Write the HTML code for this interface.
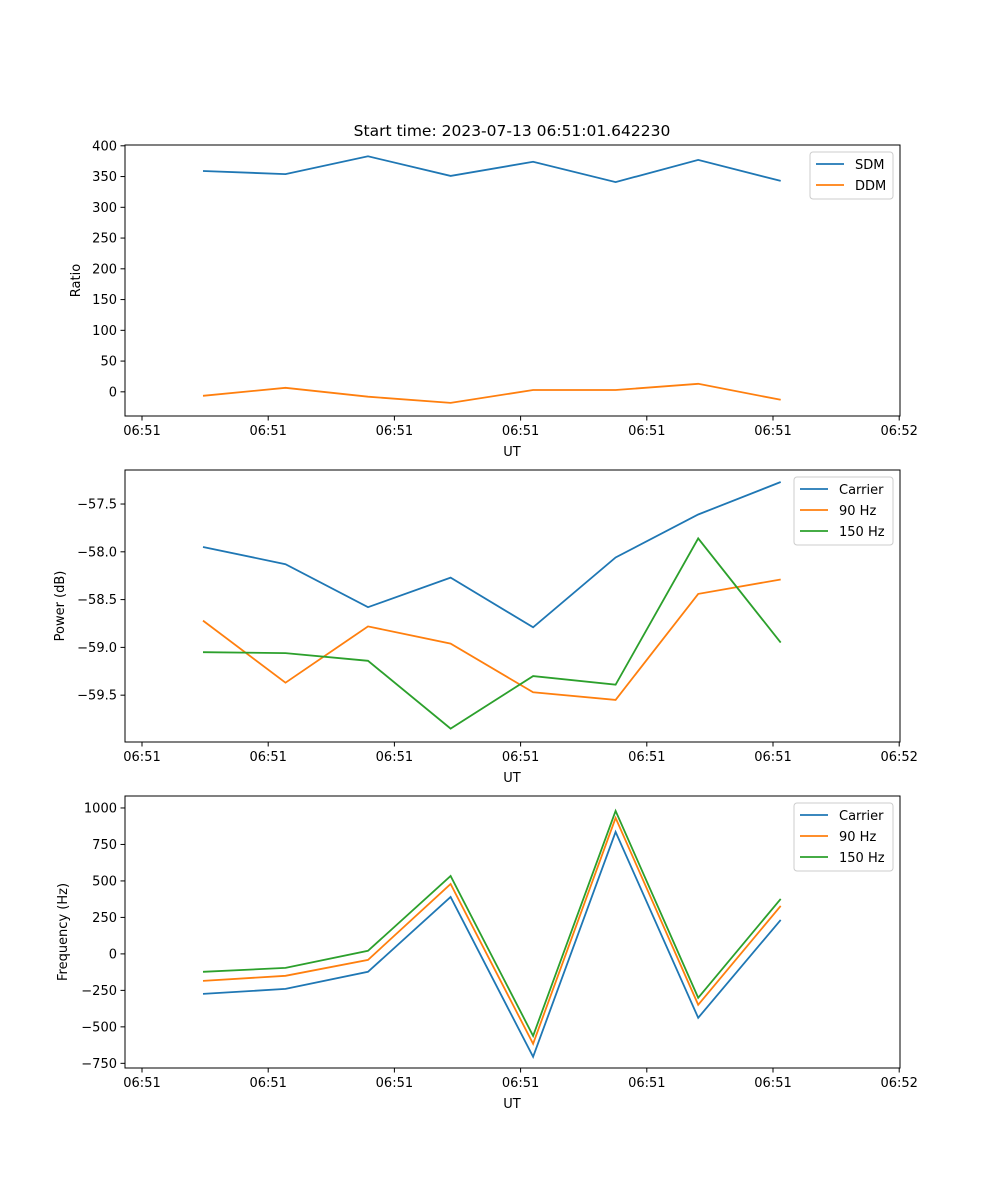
<!DOCTYPE html>
<html><head><meta charset="utf-8"><style>
body{margin:0;background:#fff}
svg{display:block;font-family:"DejaVu Sans","Liberation Sans",sans-serif}
</style></head><body>
<svg id="fig" width="1000" height="1200" viewBox="0 0 1000 1200"></svg>
<script>
const times = [0.483, 1.137, 1.791, 2.445, 3.099, 3.753, 4.407, 5.061];
const xTicks = [0, 1, 2, 3, 4, 5, 6];
const xTickLabels = ["06:51","06:51","06:51","06:51","06:51","06:51","06:52"];
const sdm = [359, 354, 383, 351, 374, 341, 377, 343];
const ddm = [-6.5, 6.5, -8, -18, 3, 3, 13, -13];
const pCarrier = [-57.95, -58.13, -58.58, -58.27, -58.79, -58.06, -57.61, -57.27];
const p90 = [-58.72, -59.37, -58.78, -58.96, -59.47, -59.55, -58.44, -58.29];
const p150 = [-59.05, -59.06, -59.14, -59.85, -59.3, -59.39, -57.86, -58.95];
const fCarrier = [-274, -240, -123, 390, -705, 836, -438, 233];
const f90 = [-185, -150, -41, 479, -616, 932, -349, 329];
const f150 = [-123, -96, 21, 534, -562, 980, -301, 377];
const ticks1 = [0, 50, 100, 150, 200, 250, 300, 350, 400];
const ticks2 = [-59.5, -59.0, -58.5, -58.0, -57.5];
const ticks3 = [-750, -500, -250, 0, 250, 500, 750, 1000];

const NS = "http://www.w3.org/2000/svg";
const svg = document.getElementById('fig');
function mk(tag, attrs, parent, text){
  const e = document.createElementNS(NS, tag);
  for (const k in attrs) e.setAttribute(k, attrs[k]);
  if (text !== undefined) e.textContent = text;
  (parent || svg).appendChild(e);
  return e;
}
const L = 125, R = 900;
const xs = v => 142 + v * 126.2;
const C = {blue:"#1f77b4", orange:"#ff7f0e", green:"#2ca02c"};

function panel(name, top, bottom, ymin, ymax, yTicks, fmt, ylabel, series, legendW){
  const g = mk('g', {}, svg);
  
  
  const ys = v => bottom - (v - ymin) / (ymax - ymin) * (bottom - top);
  series.forEach(s => {
    const pts = times.map((t, i) => xs(t).toFixed(1) + ',' + ys(s.vals[i]).toFixed(1)).join(' ');
    const pl = mk('polyline', {points: pts, fill: 'none', stroke: s.color, 'stroke-width': 1.8}, g);
    
    
  });
  const fr = mk('rect', {x: L, y: top, width: R - L, height: bottom - top, fill: 'none', stroke: '#000', 'stroke-width': 1}, g);
  
  
  xTicks.forEach((t, i) => {
    const x = xs(t);
    mk('line', {x1: x, x2: x, y1: bottom, y2: bottom + 4.5, stroke: '#000'}, g);
    const tx = mk('text', {x: x, y: bottom + 19, 'font-size': 13, 'text-anchor': 'middle'}, g, xTickLabels[i]);
    
    
  });
  yTicks.forEach(t => {
    const y = ys(t);
    mk('line', {x1: L - 4.5, x2: L, y1: y, y2: y, stroke: '#000'}, g);
    const tx = mk('text', {x: L - 8, y: y + 4.5, 'font-size': 13, 'text-anchor': 'end'}, g, fmt(t));
    
    
  });
  const xl = mk('text', {x: 512, y: bottom + 40, 'font-size': 13, 'text-anchor': 'middle'}, g, 'UT');
  
  
  const my = (top + bottom) / 2;
  const yl = mk('text', {x: 0, y: 0, 'font-size': 13, 'text-anchor': 'middle', transform: `translate(${ylabel.x},${my}) rotate(-90)`}, g, ylabel.t);
  
  
  const lx = R - 7 - legendW, ly = top + 7, lh = 5 + series.length * 21;
  const lg = mk('g', {}, g);
  
  
  mk('rect', {x: lx, y: ly, width: legendW, height: lh, rx: 3, fill: '#fff', 'fill-opacity': 0.8, stroke: '#ccc'}, lg);
  series.forEach((s, i) => {
    const yy = ly + 12 + i * 21;
    mk('line', {x1: lx + 6, x2: lx + 34, y1: yy, y2: yy, stroke: s.color, 'stroke-width': 1.8}, lg);
    const t = mk('text', {x: lx + 45, y: yy + 5, 'font-size': 13}, lg, s.label);
    
    
  });
}

const title = mk('text', {x: 512, y: 136, 'font-size': 15.5, 'text-anchor': 'middle'}, svg, 'Start time: 2023-07-13 06:51:01.642230');



const minus = s => s.replace('-', '\u2212');
panel('ratio-panel', 145, 416, -39.3, 401.3, ticks1, t => minus(String(t)), {x: 80, t: 'Ratio'},
  [{id:'sdm', vals: sdm, color: C.blue, label: 'SDM'}, {id:'ddm', vals: ddm, color: C.orange, label: 'DDM'}], 83);
panel('power-panel', 470, 742, -59.99, -57.144, ticks2, t => minus(t.toFixed(1)), {x: 64, t: 'Power (dB)'},
  [{id:'carrier-power', vals: pCarrier, color: C.blue, label: 'Carrier'},
   {id:'hz90-power', vals: p90, color: C.orange, label: '90 Hz'},
   {id:'hz150-power', vals: p150, color: C.green, label: '150 Hz'}], 99);
panel('frequency-panel', 796, 1068, -782, 1082, ticks3, t => minus(String(t)), {x: 67, t: 'Frequency (Hz)'},
  [{id:'carrier-freq', vals: fCarrier, color: C.blue, label: 'Carrier'},
   {id:'hz90-freq', vals: f90, color: C.orange, label: '90 Hz'},
   {id:'hz150-freq', vals: f150, color: C.green, label: '150 Hz'}], 99);
</script>
</body></html>
